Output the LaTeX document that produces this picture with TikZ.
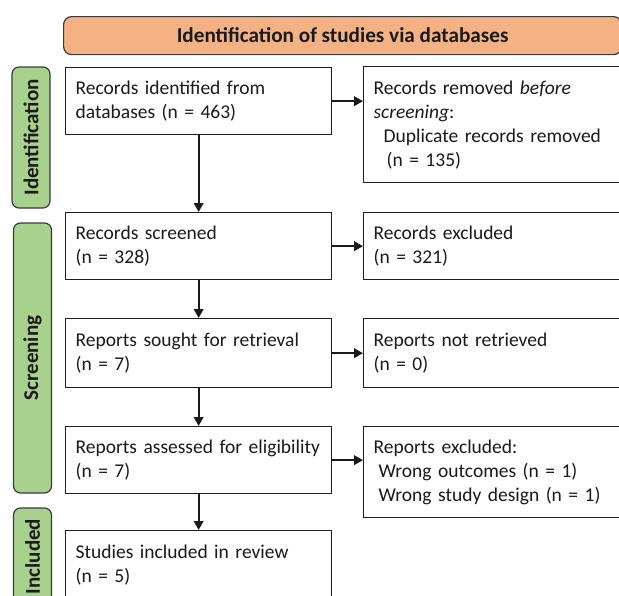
\documentclass[tikz,border=0pt]{standalone}
\usepackage{fontspec}
\setmainfont{Carlito}
\usetikzlibrary{arrows.meta}
\definecolor{hdrfill}{HTML}{F4B183}
\definecolor{lblfill}{HTML}{A9D18E}
\definecolor{edgecol}{HTML}{3A3A3A}
\definecolor{txtcol}{HTML}{1A1A1A}
\begin{document}
\begin{tikzpicture}[x=1pt,y=-1pt,
  every node/.style={font=\fontsize{19.5}{24}\selectfont, text=txtcol},
  box/.style={draw=black!88, line width=1.3pt, fill=white, anchor=north west,
    inner xsep=10pt, inner ysep=0pt, text width=#1, align=left},
  hdr/.style={draw=edgecol, line width=1.2pt, fill=hdrfill, rounded corners=8pt,
    anchor=north west, font=\bfseries\fontsize{21.2}{24}\selectfont},
  lbl/.style={draw=edgecol, line width=1.2pt, fill=lblfill, rounded corners=7pt,
    rotate=90, minimum height=38pt, inner sep=0pt, font=\bfseries\fontsize{21}{24}\selectfont},
  arr/.style={draw=txtcol, line width=2.2pt, -{Triangle[length=9pt,width=9.5pt]}}]
\useasboundingbox (0,0) rectangle (619,595);
\clip (0,0) rectangle (619,595);
\node[hdr, minimum width=558pt, minimum height=38pt] (head) at (63,16) {Identification of studies via databases};
\node[lbl, minimum width=141pt] (lid) at (31,137.5) {Identification};
\node[lbl, minimum width=270pt] (lsc) at (32.5,358) {Screening};
\node[lbl, minimum width=97pt] (lin) at (32.5,556.5) {Included};
\node[box=246pt, minimum height=67pt] (b1) at (65,67) {Records identified from\\databases (n = 463)};
\node[box=246pt, minimum height=67pt] (b2) at (65,212) {Records screened\\(n = 328)};
\node[box=246pt, minimum height=69pt] (b3) at (65,318) {Reports sought for retrieval\\(n = 7)};
\node[box=246pt, minimum height=67pt] (b4) at (65,426) {Reports assessed for eligibility\\(n = 7)};
\node[box=246pt, minimum height=69pt] (b5) at (65,530) {Studies included in review\\(n = 5)};
\node[box=238pt, minimum height=116pt] (r1) at (363,66) {Records removed \emph{before}\\\emph{screening}:\\\hspace*{10pt}Duplicate records removed\\\hspace*{13pt}(n = 135)};
\node[box=238pt, minimum height=67pt] (r2) at (363,212) {Records excluded\\(n = 321)};
\node[box=238pt, minimum height=69pt] (r3) at (363,318) {Reports not retrieved\\(n = 0)};
\node[box=238pt, minimum height=91pt] (r4) at (363,426) {Reports excluded:\\\hspace*{5pt}Wrong outcomes (n = 1)\\\hspace*{5pt}Wrong study design (n = 1)};
\draw[arr] (b1.south) -- (b2.north);
\draw[arr] (b2.south) -- (b3.north);
\draw[arr] (b3.south) -- (b4.north);
\draw[arr] (b4.south) -- (b5.north);
\draw[arr] (b1.east) -- (b1.east -| r1.west);
\draw[arr] (b2.east) -- (b2.east -| r2.west);
\draw[arr] (b3.east) -- (b3.east -| r3.west);
\draw[arr] (b4.east) -- (b4.east -| r4.west);
\end{tikzpicture}
\end{document}
